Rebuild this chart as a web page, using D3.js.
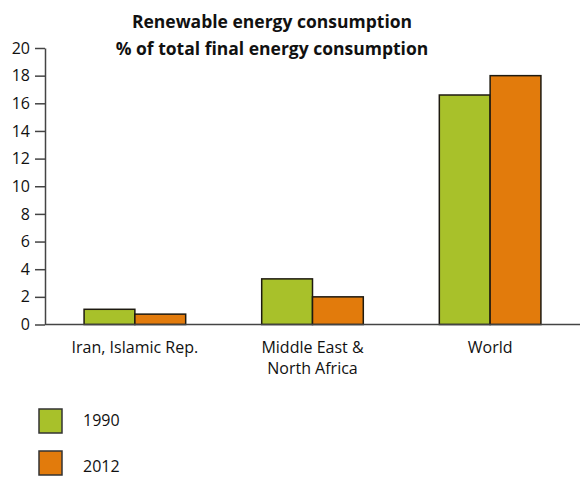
<!DOCTYPE html>
<html>
<head>
<meta charset="utf-8">
<script src="https://cdn.jsdelivr.net/npm/d3@7"></script>
<style>
  html, body { margin: 0; padding: 0; background: #fff; }
  svg { display: block; font-family: "Open Sans", "DejaVu Sans", sans-serif; }
</style>
</head>
<body>
<svg id="chart" width="584" height="477"></svg>
<script>
// Renewable energy share, % of total final energy consumption
const categories = [["Iran, Islamic Rep."], ["Middle East &", "North Africa"], ["World"]];
const seriesNames = ["1990", "2012"];
const values1990 = [1.1, 3.3, 16.6];
const values2012 = [0.75, 2.0, 18.0];
const yTicks = [0, 2, 4, 6, 8, 10, 12, 14, 16, 18, 20];
const colors = ["#a8c12a", "#e27b0c"];

const svg = d3.select("#chart");
const plot = { left: 45, right: 580, top: 48, bottom: 324.5 };

const x = d3.scaleBand()
  .domain(categories.map((c, i) => i))
  .range([plot.left, plot.right])
  .paddingInner(0.428)
  .paddingOuter(0.22);

const xSub = d3.scaleBand()
  .domain(seriesNames)
  .range([0, x.bandwidth()]);

const y = d3.scaleLinear().domain([0, 20]).range([plot.bottom, plot.top]);

// Title
const title = svg.append("text")
  .attr("text-anchor", "middle")
  .attr("font-weight", "bold")
  .attr("font-size", 17.5)
  .attr("fill", "#111");
title.append("tspan").attr("x", 272).attr("y", 28).text("Renewable energy consumption");
title.append("tspan").attr("x", 272).attr("y", 55).text("% of total final energy consumption");

// Bars
const series = [values1990, values2012];
series.forEach((vals, s) => {
  svg.append("g").selectAll("rect")
    .data(vals)
    .join("rect")
    .attr("x", (d, i) => x(i) + xSub(seriesNames[s]))
    .attr("y", d => y(d))
    .attr("width", xSub.bandwidth())
    .attr("height", d => y(0) - y(d))
    .attr("fill", colors[s])
    .attr("stroke", "#1e1a10")
    .attr("stroke-width", 1.5);
});

// Y axis
const yAxis = d3.axisLeft(y).tickValues(yTicks).tickSize(10).tickPadding(5).tickSizeOuter(0);
const gy = svg.append("g").attr("transform", `translate(${plot.left},0)`).call(yAxis);
gy.attr("font-family", null).attr("font-size", null);
gy.select(".domain").attr("stroke", "#444").attr("stroke-width", 1.5);
gy.selectAll(".tick line").attr("stroke", "#444").attr("stroke-width", 1.5);
gy.selectAll(".tick text").attr("font-size", 16).attr("fill", "#111");

// Baseline
svg.append("line")
  .attr("x1", plot.left).attr("x2", plot.right)
  .attr("y1", y(0)).attr("y2", y(0))
  .attr("stroke", "#444").attr("stroke-width", 1.5);

// Category labels
categories.forEach((lines, i) => {
  const t = svg.append("text")
    .attr("text-anchor", "middle")
    .attr("font-size", 16)
    .attr("fill", "#111");
  lines.forEach((ln, k) => {
    t.append("tspan")
      .attr("x", x(i) + x.bandwidth() / 2)
      .attr("y", 353 + k * 21)
      .text(ln);
  });
});

// Legend
const legendY = [409, 451];
const legendTextY = [426, 472];
seriesNames.forEach((name, s) => {
  svg.append("rect")
    .attr("x", 39).attr("y", legendY[s])
    .attr("width", 23).attr("height", 24)
    .attr("fill", colors[s])
    .attr("stroke", "#333").attr("stroke-width", 1.5);
  svg.append("text")
    .attr("x", 83).attr("y", legendTextY[s])
    .attr("font-size", 16)
    .attr("fill", "#111")
    .text(name);
});
</script>
</body>
</html>
